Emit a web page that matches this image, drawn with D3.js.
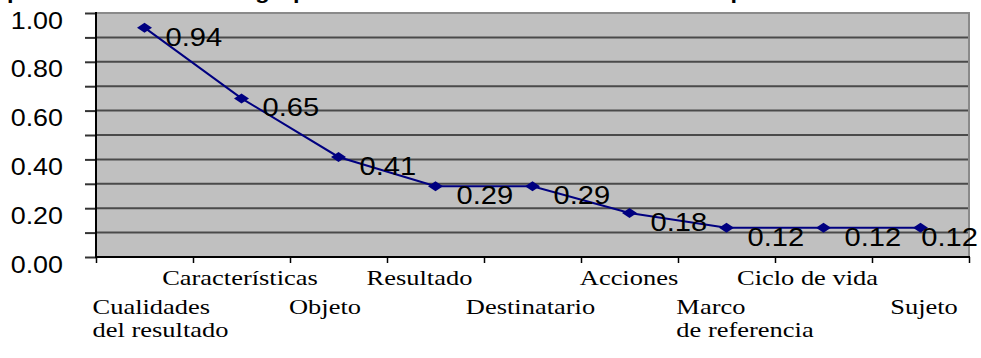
<!DOCTYPE html>
<html>
<head>
<meta charset="utf-8">
<script src="https://cdn.jsdelivr.net/npm/d3@7/dist/d3.min.js"></script>
<style>
  html, body { margin: 0; padding: 0; background: #ffffff; }
  svg { display: block; }
</style>
</head>
<body>
<svg id="chart" width="981" height="358"></svg>
<script>
// ---- data ----
const categories = [
  "Cualidades\ndel resultado",
  "Características",
  "Objeto",
  "Resultado",
  "Destinatario",
  "Acciones",
  "Marco\nde referencia",
  "Ciclo de vida",
  "Sujeto"
];
const values = [0.94, 0.65, 0.41, 0.29, 0.29, 0.18, 0.12, 0.12, 0.12];
const yTickValues = [0, 0.1, 0.2, 0.3, 0.4, 0.5, 0.6, 0.7, 0.8, 0.9, 1.0];
const yLabelValues = [0, 0.2, 0.4, 0.6, 0.8, 1.0];
const titleText = "puntuación media del grupo de las dimensiones del resultado esperado";

// ---- layout ----
const W = 981, H = 358;
const plot = { left: 96, top: 13, right: 969, bottom: 257 };
const stretch = 1.12;                 // horizontal widening of sans text
const catStretch = 1.26;              // horizontal widening of category text
const labelShift = [16, -1.5, -13.5, -16, -2, -0.5, 18.5, -16, 3.5];
const navy = "#000080";

const svg = d3.select("#chart");

const x = d3.scaleBand()
  .domain(d3.range(categories.length))
  .range([plot.left, plot.right])
  .paddingInner(0).paddingOuter(0);
const xEdge = d3.scaleLinear()
  .domain([0, categories.length])
  .range([plot.left, plot.right]);
const y = d3.scaleLinear().domain([0, 1]).range([plot.bottom, plot.top]);
const cx = i => x(i) + x.bandwidth() / 2;

// title (sits above the visible area)
svg.append("g")
  .attr("transform", `translate(7,-1) scale(${stretch},1)`)
  .append("text")
  .attr("font-family", "'Liberation Sans', Arial, sans-serif")
  .attr("font-weight", "bold")
  .attr("font-size", 21)
  .attr("fill", "#000")
  .text(titleText);

// plot background
svg.append("rect")
  .attr("x", plot.left).attr("y", plot.top)
  .attr("width", plot.right - plot.left)
  .attr("height", plot.bottom - plot.top)
  .attr("fill", "#c0c0c0");

// horizontal gridlines
svg.append("g")
  .selectAll("line")
  .data(yTickValues.filter(v => v > 0 && v < 1))
  .join("line")
  .attr("x1", plot.left).attr("x2", plot.right)
  .attr("y1", d => y(d)).attr("y2", d => y(d))
  .attr("stroke", "#4a4a4a").attr("stroke-width", 2);

// plot border (top and right)
svg.append("path")
  .attr("d", `M${plot.left},${y(1)}H${plot.right}V${plot.bottom}`)
  .attr("fill", "none")
  .attr("stroke", "#8a8a8a").attr("stroke-width", 2);

// y axis ticks
const yAxis = d3.axisLeft(y).tickValues(yTickValues).tickSize(11).tickFormat("");
const yg = svg.append("g").attr("transform", `translate(${plot.left},0)`).call(yAxis);
yg.select(".domain").remove();
yg.selectAll(".tick line").attr("stroke", "#333").attr("stroke-width", 2);
svg.append("line")
  .attr("x1", plot.left).attr("x2", plot.left)
  .attr("y1", y(1) - 1).attr("y2", plot.bottom + 1)
  .attr("stroke", "#000").attr("stroke-width", 2);

// y axis labels
svg.append("g")
  .selectAll("g")
  .data(yLabelValues)
  .join("g")
  .attr("transform", d => `translate(63,${y(d) + 15.5}) scale(${stretch},1)`)
  .append("text")
  .attr("text-anchor", "end")
  .attr("font-family", "'Liberation Sans', Arial, sans-serif")
  .attr("font-size", 24)
  .attr("fill", "#000")
  .text(d => d3.format(".2f")(d));

// x axis line and ticks at category boundaries
const xAxis = d3.axisBottom(xEdge).tickValues(d3.range(categories.length + 1)).tickSize(6).tickFormat("");
const xg = svg.append("g").attr("transform", `translate(0,${plot.bottom})`).call(xAxis);
xg.select(".domain").remove();
xg.selectAll(".tick line").attr("stroke", "#000").attr("stroke-width", 1.5);
svg.append("line")
  .attr("x1", plot.left - 1).attr("x2", plot.right + 1)
  .attr("y1", plot.bottom).attr("y2", plot.bottom)
  .attr("stroke", "#000").attr("stroke-width", 2);

// category labels, staggered in two rows
const catFont = "'Liberation Serif', 'Times New Roman', serif";
const catG = svg.append("g")
  .selectAll("g")
  .data(categories)
  .join("g")
  .attr("transform", (d, i) => {
    const base = i % 2 === 1 ? 285 : 314;
    return `translate(${cx(i) + labelShift[i]},${base}) scale(${catStretch},1)`;
  });
catG.each(function (d) {
  const g = d3.select(this);
  const lines = d.split("\n");
  const texts = lines.map((ln, k) =>
    g.append("text")
      .attr("y", k * 23.5)
      .attr("font-family", catFont)
      .attr("font-size", 21)
      .attr("fill", "#000")
      .text(ln));
  if (lines.length === 1) {
    texts[0].attr("text-anchor", "middle");
  } else {
    const maxW = d3.max(texts, t => t.node().getComputedTextLength());
    texts.forEach(t => t.attr("text-anchor", "start").attr("x", -maxW / 2));
  }
});

// series line
const line = d3.line().x((d, i) => cx(i)).y(d => y(d));
svg.append("path")
  .datum(values)
  .attr("d", line)
  .attr("fill", "none")
  .attr("stroke", navy)
  .attr("stroke-width", 2);

// diamond markers
svg.append("g")
  .selectAll("path")
  .data(values)
  .join("path")
  .attr("transform", (d, i) => `translate(${cx(i)},${y(d)})`)
  .attr("d", "M-7.5,0L0,-5L7.5,0L0,5Z")
  .attr("fill", navy);

// value labels, kept inside the right edge of the page
const valG = svg.append("g")
  .selectAll("g")
  .data(values)
  .join("g");
valG.append("text")
  .attr("font-family", "'Liberation Sans', Arial, sans-serif")
  .attr("font-size", 26)
  .attr("fill", "#000")
  .text(d => d3.format(".2f")(d));
valG.attr("transform", function (d, i) {
  const w = d3.select(this).select("text").node().getComputedTextLength() * stretch;
  const left = Math.min(cx(i) + 21, W - 3 - w);
  return `translate(${left},${y(d) + 18}) scale(${stretch},1)`;
});
</script>
</body>
</html>
